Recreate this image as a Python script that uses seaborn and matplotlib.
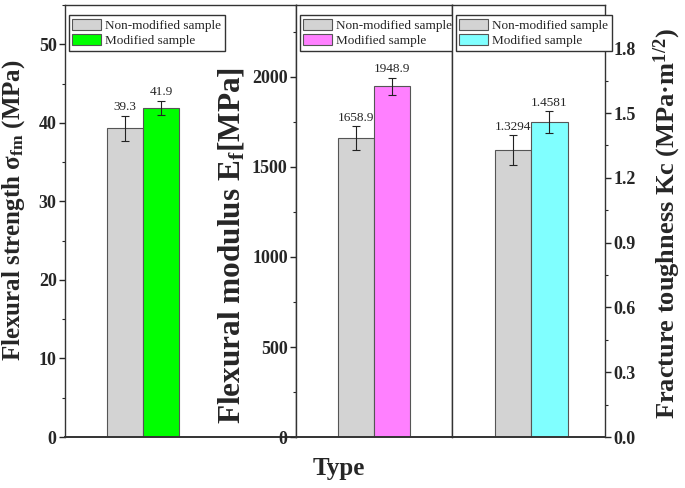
import numpy as np
import pandas as pd
import matplotlib
matplotlib.use("Agg")
import matplotlib.pyplot as plt
from matplotlib.ticker import MultipleLocator, FormatStrFormatter
import seaborn as sns

# data
samples = ["Non-modified sample", "Modified sample"]
strength = [39.3, 41.9]
strength_err = [1.6, 0.9]
modulus = [1658.9, 1948.9]
modulus_err = [67, 47]
toughness = [1.3294, 1.4581]
toughness_err = [0.068, 0.05]
value_labels = [["39.3", "41.9"], ["1658.9", "1948.9"], ["1.3294", "1.4581"]]
mod_colors = ["#00ff00", "#ff80ff", "#80ffff"]
grey = "#d3d3d3"

sns.set_style("ticks")
plt.rcParams["font.family"] = ["Liberation Serif", "DejaVu Serif"]
plt.rcParams["mathtext.fontset"] = "custom"
plt.rcParams["mathtext.rm"] = "Liberation Serif"
plt.rcParams["mathtext.bf"] = "Liberation Serif:bold"
plt.rcParams["mathtext.default"] = "bf"

fig = plt.figure(figsize=(6.85, 4.88), dpi=100)
bot, top = 1 - 437 / 488, 1 - 5 / 488
def box(x0, x1):
    return [x0 / 685, bot, (x1 - x0) / 685, top - bot]
ax1 = fig.add_axes(box(65, 296))
ax2 = fig.add_axes(box(296, 452))
ax3 = fig.add_axes(box(452, 605))
axes = [ax1, ax2, ax3]

vals = [strength, modulus, toughness]
errs = [strength_err, modulus_err, toughness_err]
xlims = [(-0.855, 1.677), (-0.855, 0.855), (-0.866, 0.811)]
ylims = [(0, 55), (0, 2400), (0, 2.0)]
major = [10, 500, 0.3]

for i, ax in enumerate(axes):
    df = pd.DataFrame({"Type": [""] * 2, "sample": samples, "value": vals[i]})
    sns.barplot(data=df, x="Type", y="value", hue="sample", hue_order=samples,
                palette={samples[0]: grey, samples[1]: mod_colors[i]},
                saturation=1, errorbar=None, edgecolor="#555555", linewidth=0.8, ax=ax)
    for j, p in enumerate(ax.patches[:2]):
        cx = p.get_x() + p.get_width() / 2
        ax.errorbar(cx, vals[i][j], yerr=errs[i][j], fmt="none", ecolor="#222222",
                    elinewidth=0.8, capsize=3, capthick=0.8)
        ax.text(cx, vals[i][j] + errs[i][j] + ylims[i][1] * 0.006, value_labels[i][j],
                ha="center", va="bottom", fontsize=9.5)
    ax.set_xlim(*xlims[i])
    ax.set_ylim(*ylims[i])
    ax.yaxis.set_major_locator(MultipleLocator(major[i]))
    ax.yaxis.set_minor_locator(MultipleLocator(major[i] / 2))
    ax.set_xticks([])
    ax.set_xlabel("")
    ax.set_ylabel("")
    ax.tick_params(axis="y", which="major", direction="out", length=4, width=1,
                   labelsize=13, pad=2)
    ax.tick_params(axis="y", which="minor", direction="out", length=2.5, width=0.8)
    for lab in ax.get_yticklabels():
        lab.set_fontweight("bold")
    for s in ax.spines.values():
        s.set_visible(True)
        s.set_color("#333333")
        s.set_linewidth(1)
    ax.spines["bottom"].set_linewidth(1.4)
    h, l = ax.get_legend_handles_labels()
    ax.legend(h, l, loc="upper left", bbox_to_anchor=(0, 0.985), borderaxespad=0.3,
              fontsize=9.5, frameon=True, fancybox=False, edgecolor="#333333",
              framealpha=1, handlelength=2.2, handleheight=0.9, labelspacing=0.2,
              handletextpad=0.3, borderpad=0.25)

ax3.yaxis.tick_right()
ax3.yaxis.set_major_formatter(FormatStrFormatter("%.1f"))
ax3.tick_params(axis="y", which="both", left=False, right=True)
for lab in ax3.get_yticklabels():
    lab.set_fontweight("bold")

# axis titles placed where the reference has them
fig.text(14 / 685, 1 - 210 / 488, "Flexural strength σ$_{fm}$ (MPa)", rotation=90,
         ha="center", va="center", fontsize=18, fontweight="bold")
fig.text(232 / 685, 1 - 246 / 488, "Flexural modulus E$_{f}$[MPa]", rotation=90,
         ha="center", va="center", fontsize=22.5, fontweight="bold")
fig.text(667 / 685, 1 - 224 / 488, "Fracture toughness Kc (MPa·m$^{1/2}$)", rotation=90,
         ha="center", va="center", fontsize=19, fontweight="bold")
fig.text(339 / 685, 1 - 468 / 488, "Type", ha="center", va="center",
         fontsize=18, fontweight="bold")

fig.savefig("out.png", dpi=100)
